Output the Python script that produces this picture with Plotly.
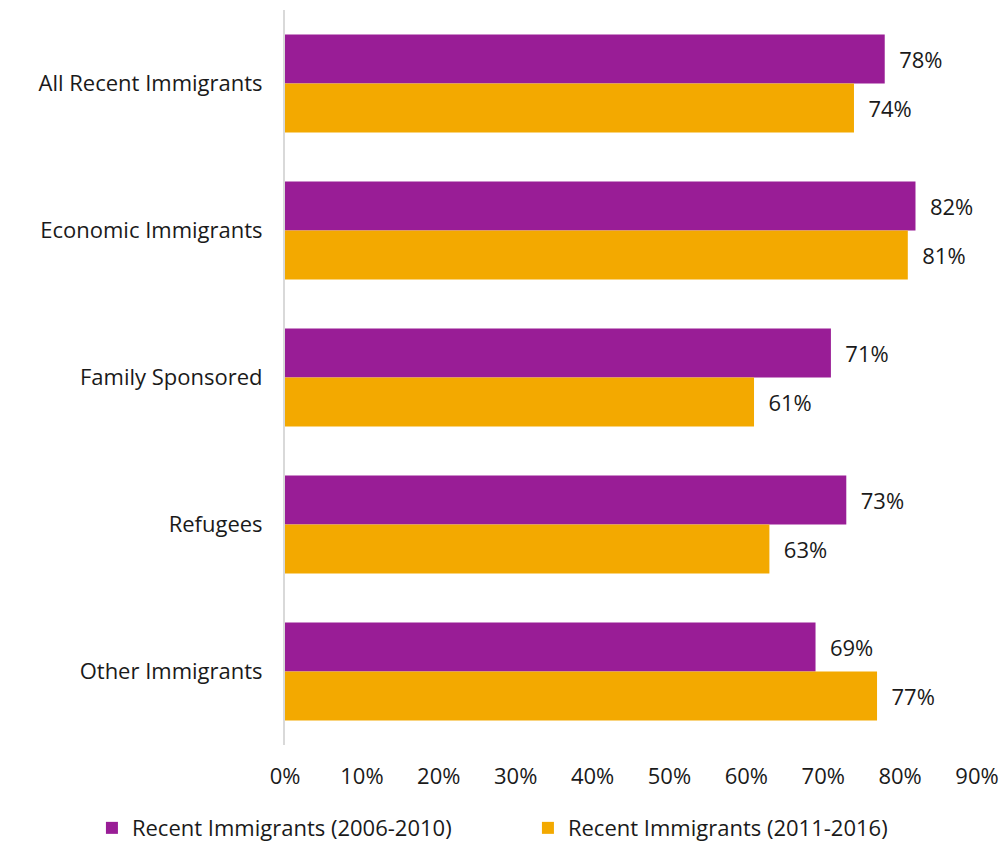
import plotly.graph_objects as go

categories = ["All Recent Immigrants", "Economic Immigrants", "Family Sponsored",
              "Refugees", "Other Immigrants"]
series_2006_2010 = [78, 82, 71, 73, 69]
series_2011_2016 = [74, 81, 61, 63, 77]
x_ticks = [0, 10, 20, 30, 40, 50, 60, 70, 80, 90]
x_tick_labels = [f"{t}%" for t in x_ticks]

PURPLE = "#991D96"
ORANGE = "#F3A900"
FONT = "Open Sans"
TEXT = "#1a1a1a"
SIZE = 22

fig = go.Figure()
for name, vals, color in [
    ("Recent Immigrants (2006-2010)", series_2006_2010, PURPLE),
    ("Recent Immigrants (2011-2016)", series_2011_2016, ORANGE),
]:
    fig.add_trace(go.Bar(
        y=categories, x=vals, name=name, orientation="h",
        marker=dict(color=color, line=dict(width=0)),
        text=[f"\u00a0\u00a0{v}%" for v in vals], textposition="outside",
        textfont=dict(family=FONT, size=SIZE, color=TEXT),
        cliponaxis=False,
    ))

fig.update_layout(
    width=1004, height=844,
    margin=dict(l=285, r=27, t=10, b=99, autoexpand=False),
    paper_bgcolor="white", plot_bgcolor="white",
    barmode="group", bargap=0.333, bargroupgap=0,
    font=dict(family=FONT, size=SIZE, color=TEXT),
    showlegend=True,
    legend=dict(orientation="h", x=-0.279, xanchor="left",
                y=-0.113, yanchor="middle",
                font=dict(family=FONT, size=SIZE, color=TEXT),
                itemwidth=30, traceorder="normal",
                entrywidth=391, entrywidthmode="pixels"),
    xaxis=dict(range=[0, 90], tickvals=x_ticks, ticktext=x_tick_labels,
               showgrid=False, zeroline=False, showline=False,
               ticklabelstandoff=16,
               tickfont=dict(family=FONT, size=SIZE, color=TEXT)),
    yaxis=dict(autorange="reversed", showgrid=False, showline=True,
               linecolor="#D9D9D9", linewidth=2, ticks="",
               ticklabelstandoff=16,
               tickfont=dict(family=FONT, size=SIZE, color=TEXT)),
)

fig.write_html("out.html")
